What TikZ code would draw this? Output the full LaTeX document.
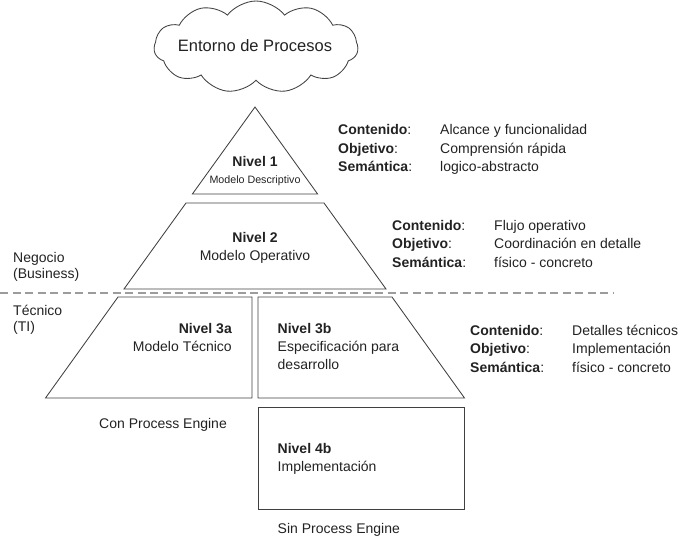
\documentclass[tikz,border=0pt]{standalone}
\usepackage{fontspec}
\setmainfont{Liberation Sans}
\usetikzlibrary{shapes.symbols}
\definecolor{ink}{HTML}{222222}
\definecolor{edge}{HTML}{404040}
\definecolor{divider}{HTML}{9C9C9C}
\begin{document}
\begin{tikzpicture}[x=1pt,y=-1pt,
  txt/.style={inner sep=0pt, text=ink, font=\fontsize{14}{18.5}\selectfont},
  lbl/.style={txt, anchor=base west},
  ctr/.style={txt, anchor=base},
  rgt/.style={txt, anchor=base east},
  small/.style={txt, anchor=base, font=\fontsize{10.7}{13}\selectfont},
  tier/.style={draw=edge, line width=0.85pt, line join=miter},
  info/.style={txt, anchor=base west, align=left}
]
\useasboundingbox (0,0) rectangle (690,540);

% cloud on top
\node[cloud, draw=edge, line width=0.85pt, cloud puffs=11, cloud puff arc=105,
      aspect=2.3, minimum width=204pt, minimum height=92pt, inner sep=0pt]
      (env) at (256,47) {};
\node[txt, anchor=base, font=\fontsize{16.5}{20}\selectfont] (envtext) at (255,52) {Entorno de Procesos};

% pyramid tiers
\draw[tier] (255,107) -- (317.6,194) -- (192.4,194) -- cycle;
\draw[tier] (186,203) -- (324,203) -- (386,289) -- (124,289) -- cycle;
\draw[tier] (118,297) -- (252,297) -- (252,398) -- (45.5,398) -- cycle;
\draw[tier] (258,297) -- (392,297) -- (464.5,398) -- (258,398) -- cycle;
\draw[tier] (258,407) -- (464.5,407) -- (464.5,509) -- (258,509) -- cycle;

% business / IT divider
\draw[divider, line width=1.6pt, dash pattern=on 8pt off 4.5pt] (0,293) -- (613,293);

% tier labels
\node[ctr, font=\fontsize{14}{17}\bfseries] (n1) at (255,167) {Nivel 1};
\node[small] (n1sub) at (255,183) {Modelo Descriptivo};
\node[ctr, font=\fontsize{14}{17}\bfseries] (n2) at (255,242) {Nivel 2};
\node[ctr] (n2sub) at (255,260) {Modelo Operativo};
\node[rgt, font=\fontsize{14}{17}\bfseries] (n3a) at (232,333) {Nivel 3a};
\node[rgt] (n3asub) at (232,351) {Modelo Técnico};
\node[lbl, font=\fontsize{14}{17}\bfseries] (n3b) at (277.5,333) {Nivel 3b};
\node[lbl] (n3bsub) at (277.5,351) {Especificación para};
\node[lbl] (n3bsub2) at (277.5,369) {desarrollo};
\node[lbl, font=\fontsize{14}{17}\bfseries] (n4b) at (277.5,453) {Nivel 4b};
\node[lbl] (n4bsub) at (277.5,471) {Implementación};

% engine notes
\node[lbl] (con) at (99,428) {Con Process Engine};
\node[lbl] (sin) at (277.5,533) {Sin Process Engine};

% side labels
\node[lbl] (neg1) at (13,262) {Negocio};
\node[lbl] (neg2) at (13,278.5) {(Business)};
\node[lbl] (tec1) at (13,315) {Técnico};
\node[lbl] (tec2) at (13,331) {(TI)};

% descriptions
\node[info] (info1) at (338,135) {\begin{tabular}[t]{@{}p{102pt}@{}l@{}}
  \textbf{Contenido}: & Alcance y funcionalidad\\
  \textbf{Objetivo}: & Comprensión rápida\\
  \textbf{Semántica}: & logico-abstracto\end{tabular}};
\node[info] (info2) at (392,230) {\begin{tabular}[t]{@{}p{102pt}@{}l@{}}
  \textbf{Contenido}: & Flujo operativo\\
  \textbf{Objetivo}: & Coordinación en detalle\\
  \textbf{Semántica}: & físico - concreto\end{tabular}};
\node[info] (info3) at (470,335) {\begin{tabular}[t]{@{}p{102pt}@{}l@{}}
  \textbf{Contenido}: & Detalles técnicos\\
  \textbf{Objetivo}: & Implementación\\
  \textbf{Semántica}: & físico - concreto\end{tabular}};
\end{tikzpicture}
\end{document}
